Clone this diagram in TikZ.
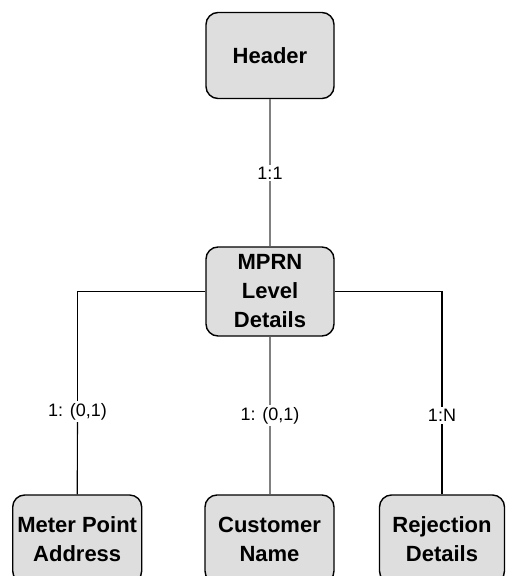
\documentclass[tikz,border=0pt]{standalone}
\usepackage{fontspec}
\setmainfont{Liberation Sans}
\definecolor{boxfill}{HTML}{DEDEDE}
\definecolor{linegray}{HTML}{808080}
\begin{document}
\begin{tikzpicture}[x=1pt,y=-1pt,
  entity/.style={draw=black, line width=1.4pt, fill=boxfill, rounded corners=12pt,
    minimum width=128pt, minimum height=86pt, align=center, inner sep=2pt,
    font=\fontsize{22}{29}\selectfont\bfseries},
  lbl/.style={inner sep=2pt, font=\fontsize{18}{21}\selectfont},
  grayline/.style={draw=linegray, line width=1.5pt},
  blackline/.style={draw=black, line width=1.1pt}]
\useasboundingbox (0,0) rectangle (506,576);
\clip (0,0) rectangle (506,576);
\node[entity] (header) at (270,55.5) {Header};
\node[entity, minimum height=89pt] (mprn) at (270,291.5) {MPRN\\Level\\Details};
\node[entity, minimum width=129pt, minimum height=88pt] (meter) at (77.2,539) {Meter Point\\Address};
\node[entity, minimum width=129pt, minimum height=88pt] (customer) at (269.5,539) {Customer\\Name};
\node[entity, minimum width=125pt, minimum height=88pt] (rejection) at (442,539) {Rejection\\Details};
\node[lbl] (l1) at (270,173) {1:1};
\node[lbl] (l2) at (77.5,411.5) {1: (0,1)};
\node[lbl] (l3) at (270,415.5) {1: (0,1)};
\node[lbl] (l4) at (442,415.5) {1:N};
\draw[grayline] (header) -- (l1) -- (mprn);
\draw[grayline] (mprn) -- (l3) -- (customer.north -| mprn.south);
\draw[blackline] (mprn.west) -| (l2.north);
\draw[blackline] (l2.south) -- (meter.north);
\draw[blackline] (mprn.east) -| (l4.north);
\draw[blackline] (l4.south) -- (rejection.north);
\end{tikzpicture}
\end{document}
